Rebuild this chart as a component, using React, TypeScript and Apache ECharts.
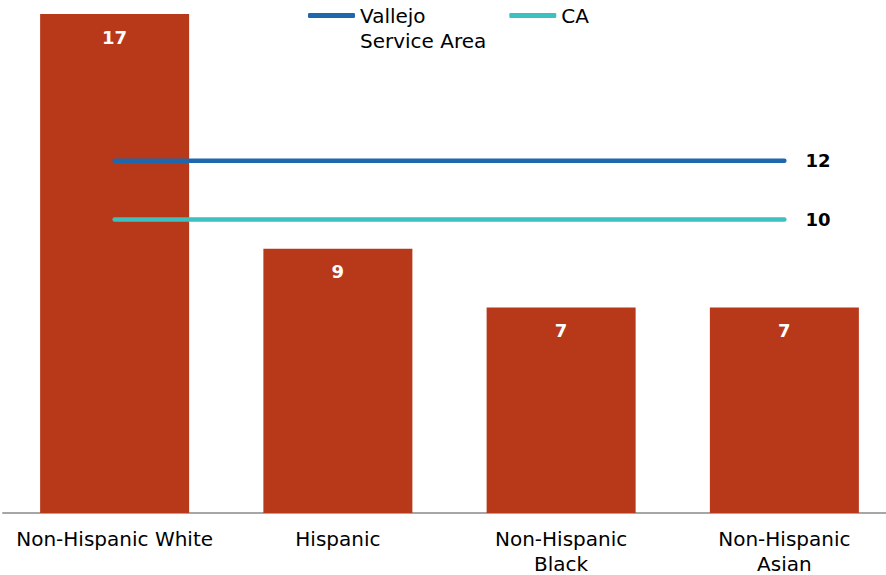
import React, { useEffect, useRef } from "react";
import * as echarts from "echarts";

// Rates by race/ethnicity, with Vallejo service area and California reference rates
const categories = ["Non-Hispanic White", "Hispanic", "Non-Hispanic\nBlack", "Non-Hispanic\nAsian"];
const rates = [17, 9, 7, 7];
const vallejoRate = 12;
const caRate = 10;

const VALLEJO_NAME = "Vallejo\nService Area";
const FONT = "DejaVu Sans, Verdana, sans-serif";
const BAR_COLOR = "#B7391A";
const VALLEJO_COLOR = "#1F67AC";
const CA_COLOR = "#3CC0C0";

export default function App() {
  const ref = useRef<HTMLDivElement>(null);

  useEffect(() => {
    if (!ref.current) return;
    const chart = echarts.init(ref.current, undefined, { renderer: "svg" });
    const refLine = (name: string, value: number, color: string) => ({
      name,
      type: "line",
      data: categories.map(() => value),
      symbol: "none",
      z: 3,
      lineStyle: { color, width: 4.5, cap: "round" },
      itemStyle: { color },
      endLabel: {
        show: true,
        distance: 21,
        fontFamily: FONT,
        fontSize: 18,
        fontWeight: "bold",
        color: "#000",
        formatter: (p: any) => String(p.value),
      },
    });

    chart.setOption({
      animation: false,
      textStyle: { fontFamily: FONT },
      legend: {
        top: -22,
        left: 308,
        padding: 0,
        itemWidth: 47,
        itemHeight: 5,
        itemGap: 23,
        icon: "roundRect",
        // the two-line entry hangs below its key line, so lead with a blank line
        formatter: (name: string) => (name === VALLEJO_NAME ? "\n" + name : name),
        textStyle: { fontFamily: FONT, fontSize: 20, color: "#000", lineHeight: 25 },
        data: [VALLEJO_NAME, "CA"],
      },
      grid: { left: 3, width: 893, top: 14, bottom: 62, outerBoundsMode: "none", containLabel: false },
      xAxis: {
        type: "category",
        data: categories,
        axisTick: { show: false },
        axisLine: { lineStyle: { color: "#A6A6A6", width: 2 } },
        axisLabel: {
          fontFamily: FONT,
          fontSize: 20,
          lineHeight: 25,
          color: "#000",
          margin: 13,
          interval: 0,
        },
      },
      yAxis: {
        type: "value",
        min: 0,
        max: 17,
        show: false,
        splitLine: { show: false },
      },
      series: [
        {
          name: "Rate",
          type: "bar",
          data: rates,
          barWidth: 149,
          itemStyle: { color: BAR_COLOR },
          label: {
            show: true,
            position: "insideTop",
            distance: 14,
            fontFamily: FONT,
            fontSize: 18,
            fontWeight: "bold",
            color: "#fff",
          },
        },
        refLine(VALLEJO_NAME, vallejoRate, VALLEJO_COLOR),
        refLine("CA", caRate, CA_COLOR),
      ],
    });

    return () => chart.dispose();
  }, []);

  return <div ref={ref} style={{ width: 886, height: 575, position: "absolute", left: 0, top: 0 }} />;
}
